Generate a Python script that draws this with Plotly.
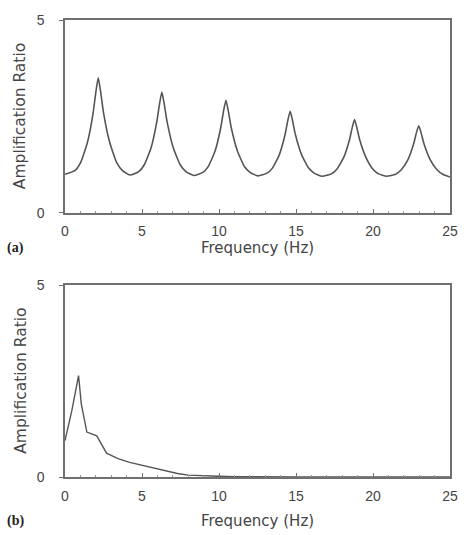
import plotly.graph_objects as go
from plotly.subplots import make_subplots

# Panel (a): frequency (Hz) and amplification ratio
freq_a = [0.00, 0.66, 1.01, 1.46, 1.83, 2.01, 2.16, 2.31, 2.50, 2.90, 3.36, 3.72,
          4.22, 4.79, 5.14, 5.59, 5.96, 6.14, 6.29, 6.44, 6.63, 7.03, 7.49, 7.85,
          8.37, 8.95, 9.30, 9.75, 10.12, 10.30, 10.45, 10.60, 10.79, 11.19, 11.65, 12.01,
          12.53, 13.12, 13.47, 13.92, 14.29, 14.47, 14.62, 14.77, 14.96, 15.36, 15.82, 16.18,
          16.70, 17.30, 17.65, 18.10, 18.47, 18.65, 18.80, 18.95, 19.14, 19.54, 20.00, 20.36,
          20.88, 21.47, 21.82, 22.27, 22.64, 22.82, 22.97, 23.12, 23.31, 23.71, 24.17, 24.53,
          25.00]
amp_a = [1.00, 1.10, 1.30, 1.83, 2.60, 3.15, 3.50, 3.15, 2.60, 1.83, 1.30, 1.10,
         0.98, 1.07, 1.24, 1.69, 2.36, 2.83, 3.13, 2.83, 2.36, 1.69, 1.24, 1.07,
         0.97, 1.05, 1.20, 1.61, 2.22, 2.65, 2.92, 2.65, 2.22, 1.61, 1.20, 1.05,
         0.96, 1.03, 1.16, 1.51, 2.03, 2.40, 2.63, 2.40, 2.03, 1.51, 1.16, 1.03,
         0.95, 1.01, 1.13, 1.44, 1.89, 2.21, 2.42, 2.21, 1.89, 1.44, 1.13, 1.01,
         0.95, 1.00, 1.11, 1.38, 1.79, 2.08, 2.26, 2.08, 1.79, 1.38, 1.11, 1.00,
         0.93]

# Panel (b)
freq_b = [0.00, 0.45, 0.88, 1.06, 1.42, 1.75, 2.06, 2.70, 3.44, 4.20, 5.00, 5.80,
          6.63, 7.30, 8.00, 9.00, 10.00, 11.00, 12.00, 13.00, 15.00, 20.00, 25.00]
amp_b = [0.95, 1.74, 2.64, 1.90, 1.17, 1.12, 1.07, 0.62, 0.48, 0.38, 0.30, 0.22,
         0.15, 0.09, 0.05, 0.03, 0.02, 0.01, 0.005, 0.0, 0.0, 0.0, 0.0]

x_ticks = [0, 5, 10, 15, 20, 25]
y_ticks = [0, 5]

line_col = "#555555"
axis_col = "#707070"
tick_fam = "Liberation Sans, Arial, sans-serif"
title_fam = "DejaVu Sans, Verdana, sans-serif"
txt_col = "#444444"

fig = make_subplots(rows=2, cols=1, vertical_spacing=0.16)
fig.add_trace(go.Scatter(x=freq_a, y=amp_a, mode="lines",
                         line=dict(color=line_col, width=1.6, shape="spline", smoothing=0.5)),
              row=1, col=1)
fig.add_trace(go.Scatter(x=freq_b, y=amp_b, mode="lines",
                         line=dict(color=line_col, width=1.4)),
              row=2, col=1)

axis_common = dict(showgrid=False, zeroline=False, showline=True, linecolor=axis_col,
                   linewidth=1.5, mirror=True,
                   tickfont=dict(size=14, color=txt_col, family=tick_fam))

for xa in ["xaxis", "xaxis2"]:
    fig.layout[xa].update(range=[0, 25], tickvals=x_ticks, ticks="inside", ticklen=4,
                          tickcolor=axis_col,
                          minor=dict(dtick=1, ticks="inside", ticklen=2, tickcolor="#999999"),
                          ticklabelstandoff=5, **axis_common)
for ya in ["yaxis", "yaxis2"]:
    fig.layout[ya].update(range=[0, 5], tickvals=y_ticks, ticks="outside", ticklen=4,
                          tickcolor=axis_col, ticklabelstandoff=12, **axis_common)

fig.layout.xaxis.domain = [0, 1]
fig.layout.xaxis2.domain = [0, 1]
fig.layout.yaxis.domain = [0.578, 1.0]
fig.layout.yaxis2.domain = [0.0, 0.42]

ann = []
for yref in ["y", "y2"]:
    ann.append(dict(text="Amplification Ratio", xref="paper", yref=yref, x=-0.115, y=2.5,
                    xanchor="center", yanchor="middle",
                    textangle=-90, showarrow=False,
                    font=dict(size=15.5, color=txt_col, family=title_fam)))
ann.append(dict(text="Frequency (Hz)", xref="paper", yref="paper", x=0.5, y=0.578,
                yshift=-35, yanchor="middle", showarrow=False,
                font=dict(size=15, color=txt_col, family=title_fam)))
ann.append(dict(text="Frequency (Hz)", xref="paper", yref="paper", x=0.5, y=0.0,
                yshift=-44, yanchor="middle", showarrow=False,
                font=dict(size=15, color=txt_col, family=title_fam)))
ann.append(dict(text="<b>(a)</b>", xref="paper", yref="paper", x=-0.155, xanchor="left",
                y=0.578, yshift=-35, yanchor="middle", showarrow=False,
                font=dict(size=14, color="#222222", family="Liberation Serif, Times New Roman, serif")))
ann.append(dict(text="<b>(b)</b>", xref="paper", yref="paper", x=-0.155, xanchor="left",
                y=0.0, yshift=-44, yanchor="middle", showarrow=False,
                font=dict(size=14, color="#222222", family="Liberation Serif, Times New Roman, serif")))

fig.update_layout(width=470, height=535, showlegend=False,
                  margin=dict(l=65, r=12, t=17, b=58),
                  paper_bgcolor="white", plot_bgcolor="white",
                  font=dict(family=tick_fam, color=txt_col),
                  annotations=ann)

fig.write_html("out.html")
